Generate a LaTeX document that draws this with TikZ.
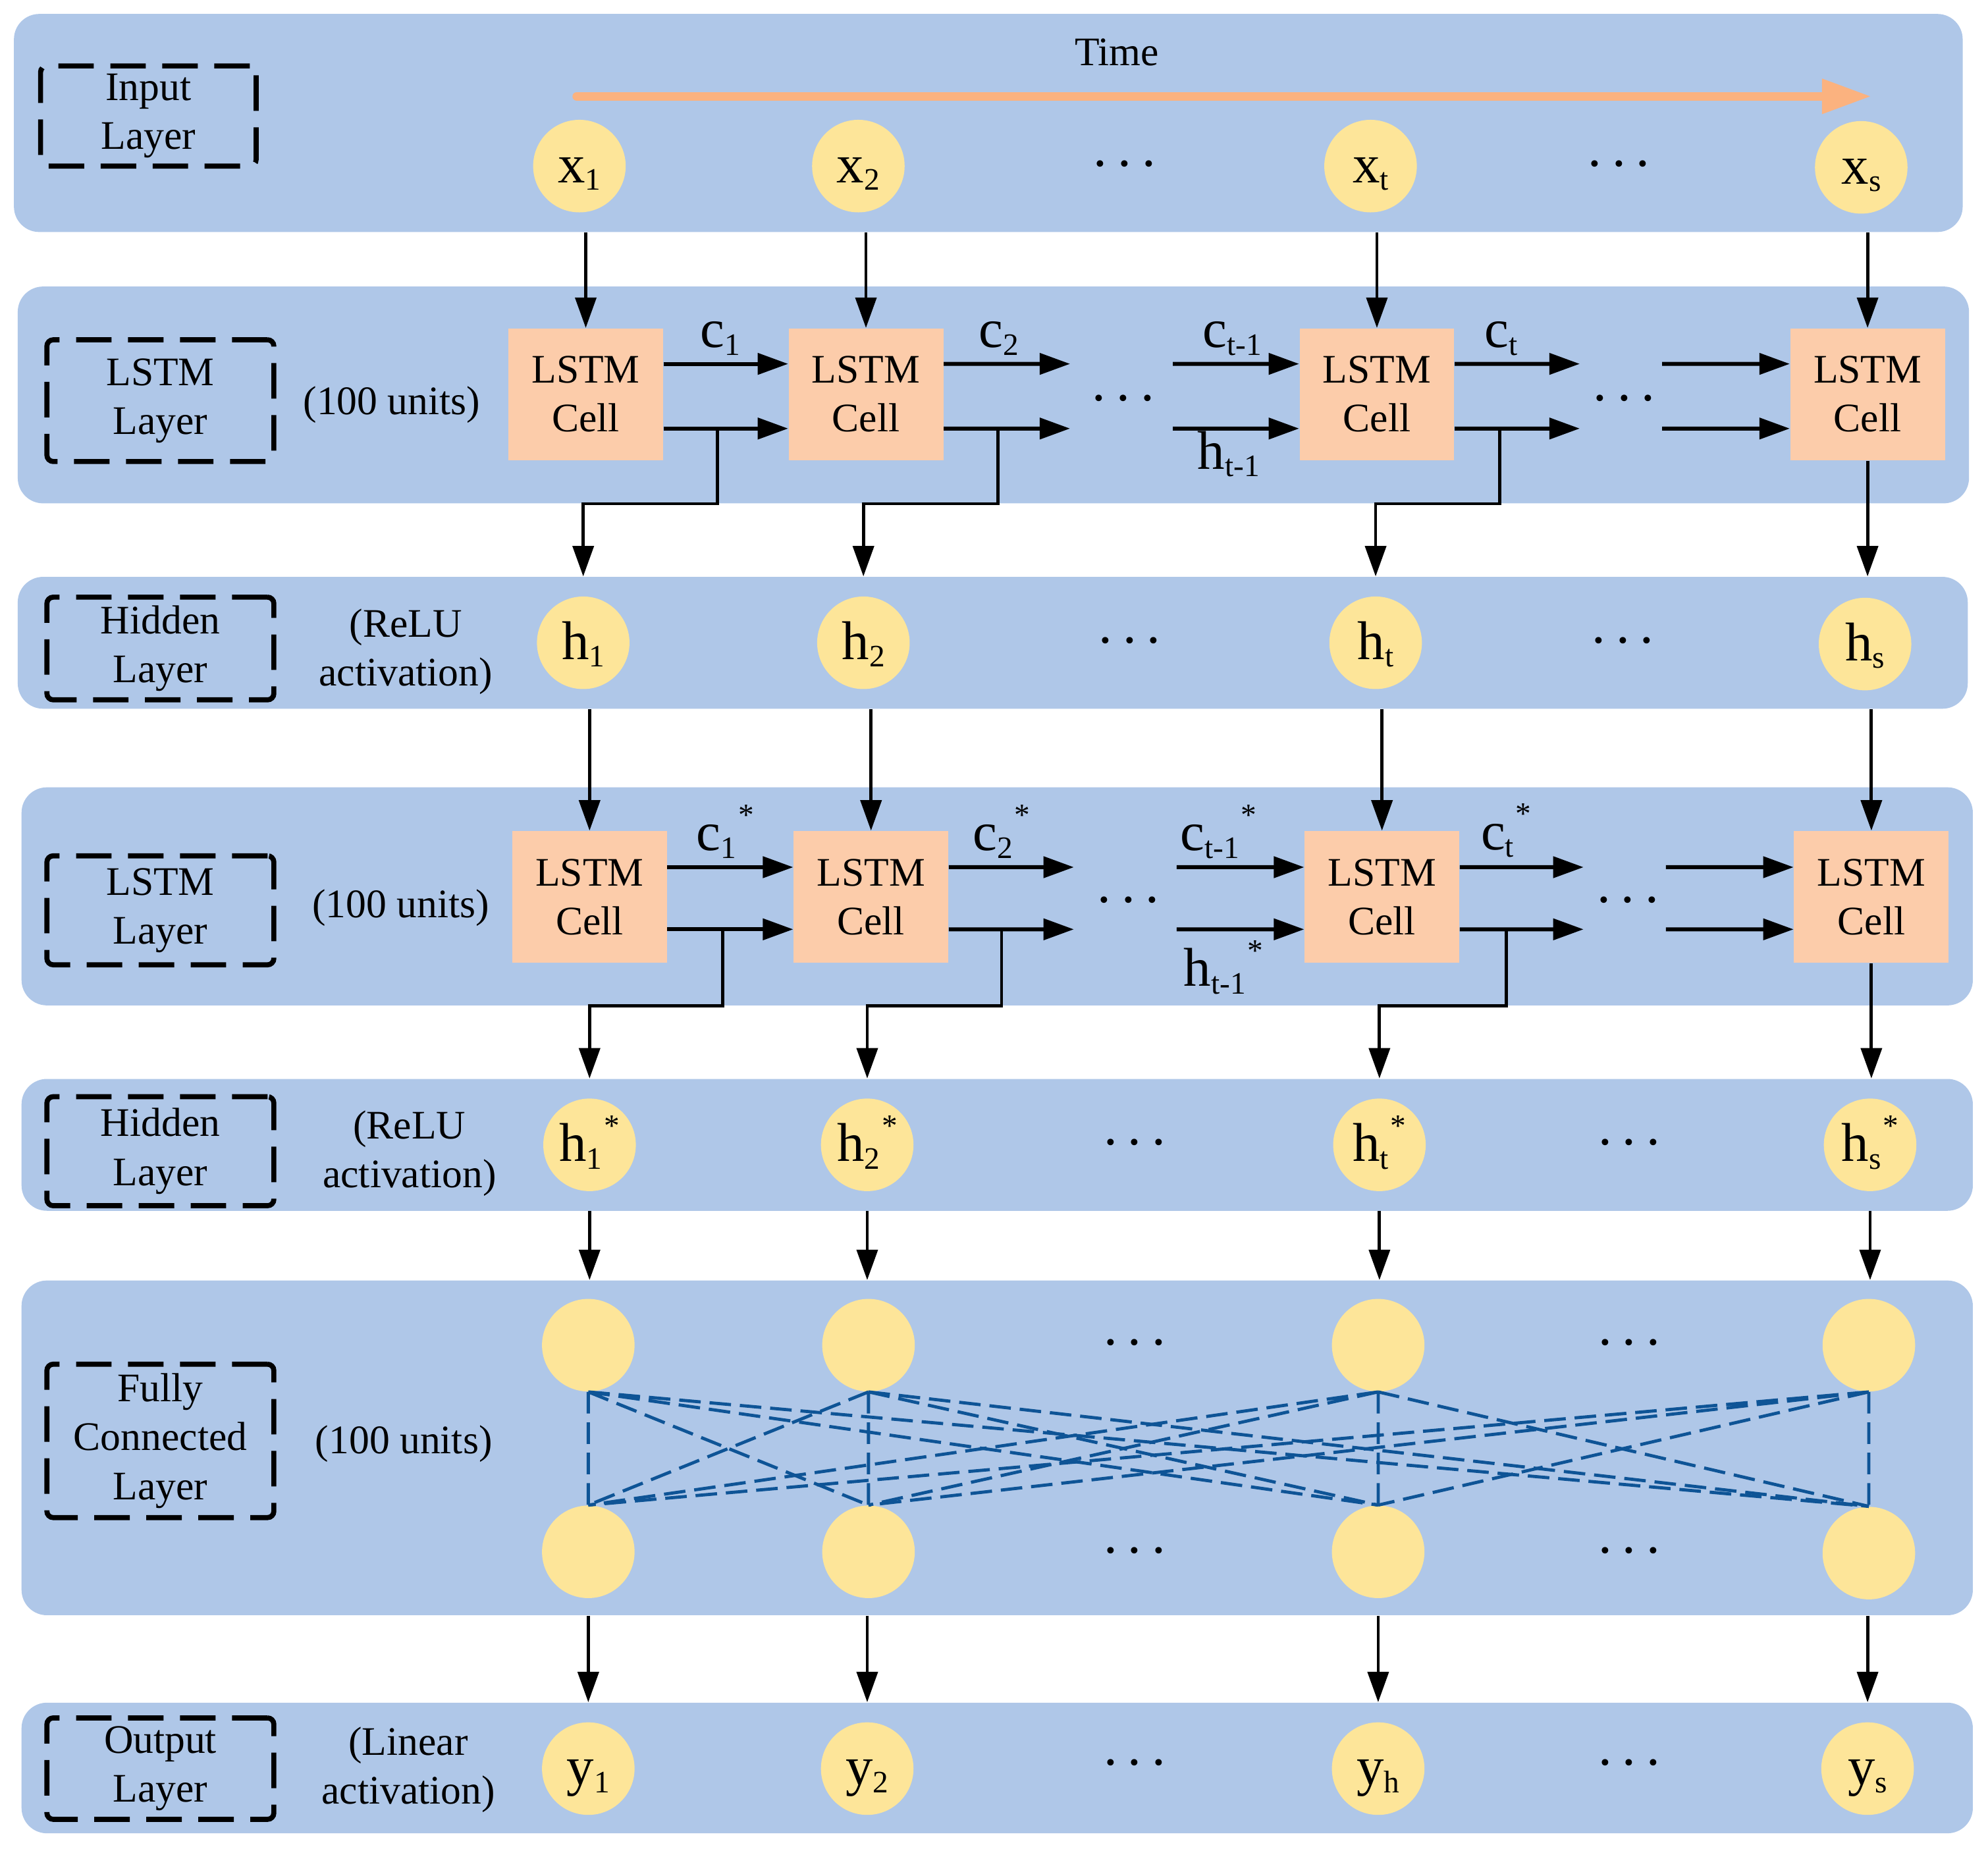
\documentclass[tikz,border=0pt]{standalone}
\usepackage{fontspec}
\setmainfont{Liberation Serif}
\usetikzlibrary{arrows.meta}

\definecolor{panelblue}{RGB}{175,199,232}
\definecolor{unityellow}{RGB}{253,229,153}
\definecolor{cellpeach}{RGB}{252,204,170}
\definecolor{timeorange}{RGB}{251,178,127}
\definecolor{fcblue}{RGB}{14,84,150}

\newcommand{\labfont}{\fontsize{18.2}{21.9}\selectfont}
\newcommand{\symfont}{\fontsize{24.5}{29}\selectfont}
\newcommand{\subtxt}[1]{\raisebox{-1.2mm}{\fontsize{14}{14}\selectfont #1}}
\newcommand{\startxt}{\kern0.3mm\raisebox{4mm}{\fontsize{14}{14}\selectfont *}}
\newcommand{\threedots}{.\kern1.65mm.\kern1.65mm.}

\begin{document}
\begin{tikzpicture}[x=0.2mm, y=-0.2mm,
  panel/.style={fill=panelblue, rounded corners=4mm, inner sep=0pt, minimum width=307.8mm},
  layerbox/.style={draw, line width=0.8mm, dash pattern=on 5.6mm off 2.6mm, rounded corners=1mm, align=center, inner sep=0pt, font=\labfont},
  cellbox/.style={fill=cellpeach, minimum width=24.4mm, minimum height=20.8mm, inner sep=0pt, align=center, font=\labfont},
  unitnode/.style={circle, fill=unityellow, minimum size=14.6mm, inner sep=0pt, text height=6.4mm, text depth=1.2mm, font=\symfont},
  note/.style={align=center, inner sep=0pt, font=\labfont},
  lab/.style={inner sep=0pt, anchor=base, font=\symfont},
  dotsn/.style={inner sep=0pt, font=\symfont},
  arr/.style={-{Triangle[length=4.8mm,width=3.3mm]}, line width=0.5mm},
  flow/.style={arr, line width=0.62mm},
  fclink/.style={draw=fcblue, line width=0.5mm, dash pattern=on 3.4mm off 1.4mm},
  timeflow/.style={draw=timeorange, line width=1.4mm, line cap=round, -{Triangle[length=7.8mm,width=5.2mm]}}
]
\useasboundingbox (0,0) rectangle (1568,1458);

\node[panel, minimum width=307.4mm, minimum height=34.4mm] (inp) at (779.5,97) {};
\node[panel, minimum height=34.2mm] (lstma) at (783.5,311.5) {};
\node[panel, minimum width=307.6mm, minimum height=20.8mm] (hida) at (783,507) {};
\node[panel, minimum height=34.4mm] (lstmb) at (786.5,707) {};
\node[panel, minimum height=20.8mm] (hidb) at (786.5,903) {};
\node[panel, minimum height=52.8mm] (fc) at (786.5,1142) {};
\node[panel, minimum height=20.6mm] (outp) at (786.5,1394.5) {};

\node[layerbox, minimum width=34mm, minimum height=15.8mm] (linp) at (117,91.5) {Input\\Layer};
\node[layerbox, minimum width=35.8mm, minimum height=19.2mm] (llstma) at (126.5,316) {LSTM\\Layer};
\node[layerbox, minimum width=35.8mm, minimum height=16.2mm] (lhida) at (126.5,511.5) {Hidden\\Layer};
\node[layerbox, minimum width=35.8mm, minimum height=17.2mm] (llstmb) at (126.5,718) {LSTM\\Layer};
\node[layerbox, minimum width=35.8mm, minimum height=17.2mm] (lhidb) at (126.5,908) {Hidden\\Layer};
\node[layerbox, minimum width=35.8mm, minimum height=24.2mm] (lfc) at (126.5,1136.5) {Fully\\Connected\\Layer};
\node[layerbox, minimum width=35.8mm, minimum height=16mm] (lout) at (126.5,1395) {Output\\Layer};

\node[note] (ua) at (309,319) {(100 units)};
\node[note] (ra) at (320,514) {(ReLU\\activation)};
\node[note] (ub) at (316,716) {(100 units)};
\node[note] (rb) at (323,910) {(ReLU\\activation)};
\node[note] (uc) at (318.5,1139) {(100 units)};
\node[note] (lo) at (322,1396) {(Linear\\activation)};
\node[note] (time) at (881,41) {Time};

\coordinate (ts) at (455,76);
\coordinate (te) at (1476,76);
\draw[timeflow] (ts) -- (te);

\node[unitnode] (x1) at (457,131) {x\subtxt{1}};
\node[unitnode] (x2) at (677,131) {x\subtxt{2}};
\node[unitnode] (xt) at (1081,131) {x\subtxt{t}};
\node[unitnode] (xs) at (1468,132) {x\subtxt{s}};
\node[dotsn] (dx1) at (887,129) {\threedots};
\node[dotsn] (dx2) at (1277,129) {\threedots};

\node[cellbox] (la1) at (462,311) {LSTM\\Cell};
\node[cellbox] (la2) at (683,311) {LSTM\\Cell};
\node[cellbox] (lat) at (1086,311) {LSTM\\Cell};
\node[cellbox] (las) at (1473,311) {LSTM\\Cell};
\node[dotsn] (dla1) at (886,314) {\threedots};
\node[dotsn] (dla2) at (1281,314) {\threedots};

\node[unitnode] (ha1) at (460,507) {h\subtxt{1}};
\node[unitnode] (ha2) at (681,507) {h\subtxt{2}};
\node[unitnode] (hat) at (1085,507) {h\subtxt{t}};
\node[unitnode] (has) at (1471,508) {h\subtxt{s}};
\node[dotsn] (dha1) at (891,505) {\threedots};
\node[dotsn] (dha2) at (1280,505) {\threedots};

\node[cellbox] (lb1) at (465,707.5) {LSTM\\Cell};
\node[cellbox] (lb2) at (687,707.5) {LSTM\\Cell};
\node[cellbox] (lbt) at (1090,707.5) {LSTM\\Cell};
\node[cellbox] (lbs) at (1476,707.5) {LSTM\\Cell};
\node[dotsn] (dlb1) at (890,710) {\threedots};
\node[dotsn] (dlb2) at (1284,710) {\threedots};

\node[unitnode] (hb1) at (465,903) {h\subtxt{1}\startxt};
\node[unitnode] (hb2) at (684,903) {h\subtxt{2}\startxt};
\node[unitnode] (hbt) at (1088,903) {h\subtxt{t}\startxt};
\node[unitnode] (hbs) at (1475,903) {h\subtxt{s}\startxt};
\node[dotsn] (dhb1) at (895,901) {\threedots};
\node[dotsn] (dhb2) at (1285,901) {\threedots};

\node[unitnode] (fa1) at (464,1061) {};
\node[unitnode] (fa2) at (685,1061) {};
\node[unitnode] (fat) at (1087,1061) {};
\node[unitnode] (fas) at (1474,1061) {};
\node[unitnode] (fb1) at (464,1224) {};
\node[unitnode] (fb2) at (685,1224) {};
\node[unitnode] (fbt) at (1087,1224) {};
\node[unitnode] (fbs) at (1474,1225) {};
\node[dotsn] (dfa1) at (895,1059) {\threedots};
\node[dotsn] (dfa2) at (1285,1059) {\threedots};
\node[dotsn] (dfb1) at (895,1223) {\threedots};
\node[dotsn] (dfb2) at (1285,1223) {\threedots};

\node[unitnode] (y1) at (464,1395) {y\subtxt{1}};
\node[unitnode] (y2) at (684,1395) {y\subtxt{2}};
\node[unitnode] (yh) at (1087,1395) {y\subtxt{h}};
\node[unitnode] (ys) at (1473,1395) {y\subtxt{s}};
\node[dotsn] (dy1) at (895,1390) {\threedots};
\node[dotsn] (dy2) at (1285,1390) {\threedots};

\draw[arr] (la1 |- inp.south) -- (la1.north);
\draw[arr] (la2 |- inp.south) -- (la2.north);
\draw[arr] (lat |- inp.south) -- (lat.north);
\draw[arr] (las |- inp.south) -- (las.north);

\coordinate (qa1) at (844,287);
\coordinate (qa2) at (844,338);
\coordinate (pa1) at (925,287);
\coordinate (pa2) at (925,338);
\coordinate (qa3) at (1246,287);
\coordinate (qa4) at (1246,338);
\coordinate (pa3) at (1311,287);
\coordinate (pa4) at (1311,338);
\draw[flow] ([yshift=4.8mm]la1.east) -- ([yshift=4.8mm]la2.west);
\draw[flow] ([yshift=-5.4mm]la1.east) -- ([yshift=-5.4mm]la2.west);
\draw[flow] ([yshift=4.8mm]la2.east) -- (qa1);
\draw[flow] ([yshift=-5.4mm]la2.east) -- (qa2);
\draw[flow] (pa1) -- ([yshift=4.8mm]lat.west);
\draw[flow] (pa2) -- ([yshift=-5.4mm]lat.west);
\draw[flow] ([yshift=4.8mm]lat.east) -- (qa3);
\draw[flow] ([yshift=-5.4mm]lat.east) -- (qa4);
\draw[flow] (pa3) -- ([yshift=4.8mm]las.west);
\draw[flow] (pa4) -- ([yshift=-5.4mm]las.west);
\node[lab] (c1) at (568,274) {c\subtxt{1}};
\node[lab] (c2) at (788,274) {c\subtxt{2}};
\node[lab] (ct1) at (972,274) {c\subtxt{t-1}};
\node[lab] (ct) at (1184,274) {c\subtxt{t}};
\node[lab] (ht1) at (969,370) {h\subtxt{t-1}};

\coordinate (ka1) at (566,338);
\coordinate (ka2) at (787,338);
\coordinate (kat) at (1183,338);
\draw[arr] (ka1) |- (ha1 |- lstma.south) -- (ha1 |- hida.north);
\draw[arr] (ka2) |- (ha2 |- lstma.south) -- (ha2 |- hida.north);
\draw[arr] (kat) |- (hat |- lstma.south) -- (hat |- hida.north);
\draw[arr] (las.south) -- (las |- hida.north);

\draw[arr] (lb1 |- hida.south) -- (lb1.north);
\draw[arr] (lb2 |- hida.south) -- (lb2.north);
\draw[arr] (lbt |- hida.south) -- (lbt.north);
\draw[arr] (lbs |- hida.south) -- (lbs.north);

\coordinate (qb1) at (847,684);
\coordinate (qb2) at (847,733);
\coordinate (pb1) at (928,684);
\coordinate (pb2) at (928,733);
\coordinate (qb3) at (1249,684);
\coordinate (qb4) at (1249,733);
\coordinate (pb3) at (1314,684);
\coordinate (pb4) at (1314,733);
\draw[flow] ([yshift=4.7mm]lb1.east) -- ([yshift=4.7mm]lb2.west);
\draw[flow] ([yshift=-5.1mm]lb1.east) -- ([yshift=-5.1mm]lb2.west);
\draw[flow] ([yshift=4.7mm]lb2.east) -- (qb1);
\draw[flow] ([yshift=-5.1mm]lb2.east) -- (qb2);
\draw[flow] (pb1) -- ([yshift=4.7mm]lbt.west);
\draw[flow] (pb2) -- ([yshift=-5.1mm]lbt.west);
\draw[flow] ([yshift=4.7mm]lbt.east) -- (qb3);
\draw[flow] ([yshift=-5.1mm]lbt.east) -- (qb4);
\draw[flow] (pb3) -- ([yshift=4.7mm]lbs.west);
\draw[flow] (pb4) -- ([yshift=-5.1mm]lbs.west);
\node[lab] (cs1) at (572,671) {c\subtxt{1}\startxt};
\node[lab] (cs2) at (790,671) {c\subtxt{2}\startxt};
\node[lab] (cst1) at (961,671) {c\subtxt{t-1}\startxt};
\node[lab] (cst) at (1188,670) {c\subtxt{t}\startxt};
\node[lab] (hst1) at (965,778) {h\subtxt{t-1}\startxt};

\coordinate (kb1) at (570,733);
\coordinate (kb2) at (790,733);
\coordinate (kbt) at (1188,733);
\draw[arr] (kb1) |- (hb1 |- lstmb.south) -- (hb1 |- hidb.north);
\draw[arr] (kb2) |- (hb2 |- lstmb.south) -- (hb2 |- hidb.north);
\draw[arr] (kbt) |- (hbt |- lstmb.south) -- (hbt |- hidb.north);
\draw[arr] (lbs.south) -- (lbs |- hidb.north);

\draw[arr] (hb1 |- hidb.south) -- (hb1 |- fc.north);
\draw[arr] (hb2 |- hidb.south) -- (hb2 |- fc.north);
\draw[arr] (hbt |- hidb.south) -- (hbt |- fc.north);
\draw[arr] (hbs |- hidb.south) -- (hbs |- fc.north);

\draw[fclink] (fa1.south) -- (fb1.north) (fa1.south) -- (fb2.north) (fa1.south) -- (fbt.north) (fa1.south) -- (fbs.north);
\draw[fclink] (fa2.south) -- (fb1.north) (fa2.south) -- (fb2.north) (fa2.south) -- (fbt.north) (fa2.south) -- (fbs.north);
\draw[fclink] (fat.south) -- (fb1.north) (fat.south) -- (fb2.north) (fat.south) -- (fbt.north) (fat.south) -- (fbs.north);
\draw[fclink] (fas.south) -- (fb1.north) (fas.south) -- (fb2.north) (fas.south) -- (fbt.north) (fas.south) -- (fbs.north);

\draw[arr] (y1 |- fc.south) -- (y1 |- outp.north);
\draw[arr] (y2 |- fc.south) -- (y2 |- outp.north);
\draw[arr] (yh |- fc.south) -- (yh |- outp.north);
\draw[arr] (ys |- fc.south) -- (ys |- outp.north);
\end{tikzpicture}
\end{document}
